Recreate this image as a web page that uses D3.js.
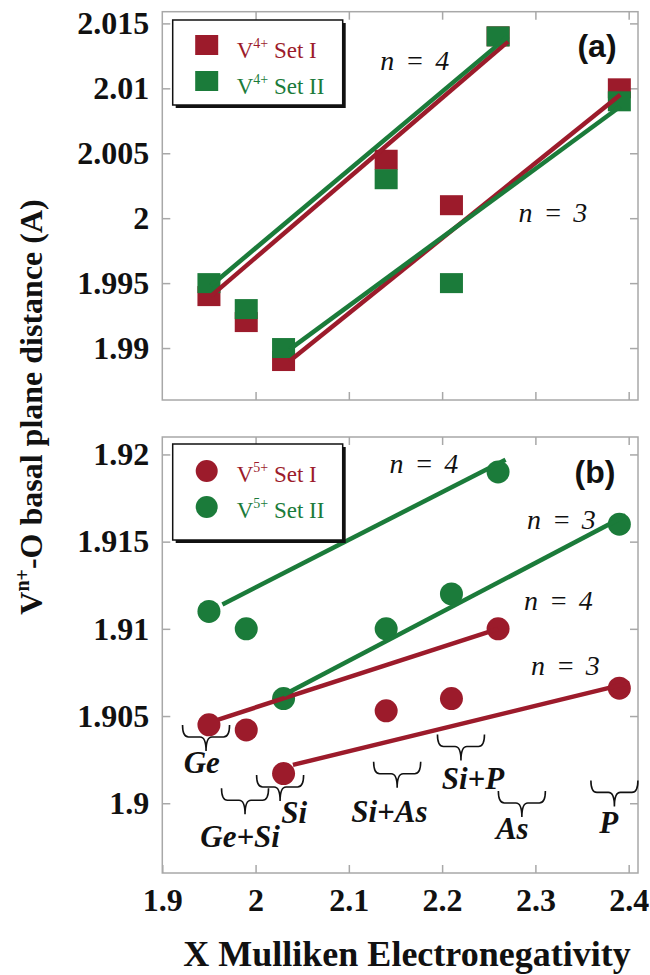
<!DOCTYPE html>
<html><head><meta charset="utf-8">
<script src="https://cdn.jsdelivr.net/npm/d3@7"></script>
<style>body{margin:0;background:#fff}svg{display:block}</style>
</head><body>
<svg id="c" width="650" height="975"></svg>
<script>
// ---------- data ----------
const xValues  = [1.95, 1.99, 2.03, 2.14, 2.21, 2.26, 2.39];
const v4SetI   = [1.994, 1.992, 1.989, 2.0045, 2.001, 2.014, 2.010];
const v4SetII  = [1.995, 1.993, 1.990, 2.003, 1.995, 2.014, 2.009];
const v5SetI   = [1.9045, 1.9042, 1.9017, 1.9053, 1.9060, 1.9100, 1.9066];
const v5SetII  = [1.9110, 1.9100, 1.9060, 1.9100, 1.9120, 1.9190, 1.9160];

// fitted lines (end points): [[x0,y0],[x1,y1]]
const fitV4SetI_n4  = [[1.952, 1.9940], [2.2706, 2.0136]];
const fitV4SetII_n4 = [[1.952, 1.9948], [2.2706, 2.0140]];
const fitV4SetI_n3  = [[2.0365, 1.9890], [2.391, 2.0095]];
const fitV4SetII_n3 = [[2.0365, 1.9899], [2.391, 2.0086]];
const fitV5SetI_n4  = [[1.960, 1.9048], [2.260, 1.9100]];
const fitV5SetI_n3  = [[2.040, 1.9022], [2.401, 1.9069]];
const fitV5SetII_n4 = [[1.9644, 1.9114], [2.268, 1.9197]];
const fitV5SetII_n3 = [[2.030, 1.9062], [2.397, 1.9165]];

const xTicks = [1.9, 2, 2.1, 2.2, 2.3, 2.4];
const xTickLabels = ["1.9", "2", "2.1", "2.2", "2.3", "2.4"];
const yTicksTop = [1.99, 1.995, 2, 2.005, 2.01, 2.015];
const yTickLabelsTop = ["1.99", "1.995", "2", "2.005", "2.01", "2.015"];
const yTicksBot = [1.9, 1.905, 1.91, 1.915, 1.92];
const yTickLabelsBot = ["1.9", "1.905", "1.91", "1.915", "1.92"];

const legendLabels = ["Set I", "Set II"];
const legendTopSup = "4+";
const legendBotSup = "5+";

// n = annotations (data coordinates)
const nLabelsTop = [{t: "n = 4", x: 2.1707, y: 2.01141}, {t: "n = 3", x: 2.3187, y: 1.99971}];
const nLabelsBot = [{t: "n = 4", x: 2.1805, y: 1.91894}, {t: "n = 3", x: 2.3278, y: 1.91572},
                    {t: "n = 4", x: 2.3246, y: 1.91108}, {t: "n = 3", x: 2.3321, y: 1.90735}];

// compound braces (data coordinates: brace centre, brace top; label centre, label baseline)
const compounds  = ["Ge", "Ge+Si", "Si", "Si+As", "Si+P", "As", "P"];
const braceX     = [1.9469, 1.9887, 2.0263, 2.1518, 2.2202, 2.2855, 2.3847];
const braceY     = [1.90449, 1.90086, 1.90162, 1.90238, 1.90394, 1.9007, 1.90131];
const compLabelX = [1.9423, 1.9834, 2.0413, 2.1434, 2.2330, 2.2752, 2.3787];
const compLabelY = [1.90175, 1.89751, 1.89885, 1.89894, 1.90082, 1.89797, 1.89827];

// ---------- drawing ----------
const RED = "#9c1b2b", GREEN = "#1b7b3a", FRAME = "#a8a8a8";
const SERIF = "'Liberation Serif','Times New Roman',Times,serif";
const svg = d3.select("#c");

const L = 162.3, R = 638;
const x = d3.scaleLinear().domain([1.9, 2.41]).range([L, R]);
const yTop = d3.scaleLinear().domain([1.986, 2.0159]).range([400, 11.7]);
const yBot = d3.scaleLinear().domain([1.896, 1.921]).range([873, 437]);

function frame(y, yTicks, yLabels, showX) {
  const [yb, yt] = y.range();
  const g = svg.append("g");
  g.append("rect").attr("x", L).attr("y", yt).attr("width", R - L).attr("height", yb - yt)
    .attr("fill", "none").attr("stroke", FRAME).attr("stroke-width", 1.5);
  const styleAxis = sel => {
    sel.select(".domain").remove();
    sel.selectAll(".tick line").attr("stroke", FRAME).attr("stroke-width", 1.5);
    sel.selectAll("text").attr("font-family", SERIF).attr("font-weight", "bold")
      .attr("font-size", 32).attr("fill", "#111");
  };
  g.append("g").attr("transform", `translate(${L},0)`)
    .call(d3.axisLeft(y).tickValues(yTicks).tickFormat((d, i) => yLabels[i]).tickSize(-8).tickPadding(13))
    .call(styleAxis);
  g.append("g").attr("transform", `translate(${R},0)`)
    .call(d3.axisRight(y).tickValues(yTicks).tickFormat("").tickSize(-8))
    .call(styleAxis);
  g.append("g").attr("transform", `translate(0,${yt})`)
    .call(d3.axisTop(x).tickValues(xTicks.slice(1)).tickFormat("").tickSize(-8))
    .call(styleAxis);
  g.append("g").attr("transform", `translate(0,${yb})`)
    .call(d3.axisBottom(x).tickValues(showX ? xTicks : xTicks.slice(1))
      .tickFormat(showX ? ((d, i) => xTickLabels[i]) : "").tickSize(-8).tickPadding(15))
    .call(styleAxis);
}

frame(yTop, yTicksTop, yTickLabelsTop, false);
frame(yBot, yTicksBot, yTickLabelsBot, true);

const line = y => d3.line().x(d => x(d[0])).y(d => y(d[1]));

// ----- top panel: squares -----
const SW = 23, SH = 20;
function squares(vals, color) {
  svg.append("g").selectAll("rect").data(vals).join("rect")
    .attr("x", (d, i) => x(xValues[i]) - SW / 2).attr("y", d => yTop(d) - SH / 2)
    .attr("width", SW).attr("height", SH).attr("fill", color);
}
squares(v4SetI, RED);
squares(v4SetII, GREEN);
[[fitV4SetI_n4, RED], [fitV4SetI_n3, RED], [fitV4SetII_n4, GREEN], [fitV4SetII_n3, GREEN]].forEach(([d, c]) =>
  svg.append("path").attr("d", line(yTop)(d)).attr("stroke", c).attr("stroke-width", 4.5).attr("fill", "none"));

// ----- bottom panel: circles -----
function circles(vals, color) {
  svg.append("g").selectAll("circle").data(vals).join("circle")
    .attr("cx", (d, i) => x(xValues[i])).attr("cy", d => yBot(d)).attr("r", 11.5).attr("fill", color);
}
circles(v5SetI, RED);
circles(v5SetII, GREEN);
[[fitV5SetI_n4, RED], [fitV5SetI_n3, RED], [fitV5SetII_n4, GREEN], [fitV5SetII_n3, GREEN]].forEach(([d, c]) =>
  svg.append("path").attr("d", line(yBot)(d)).attr("stroke", c).attr("stroke-width", 4.5).attr("fill", "none"));

// ----- n labels -----
function nLabels(arr, y) {
  svg.append("g").selectAll("text").data(arr).join("text")
    .attr("x", d => x(d.x)).attr("y", d => y(d.y)).attr("text-anchor", "middle")
    .attr("font-family", SERIF).attr("font-style", "italic").attr("font-size", 28)
    .attr("word-spacing", 4).attr("fill", "#111").text(d => d.t);
}
nLabels(nLabelsTop, yTop);
nLabels(nLabelsBot, yBot);

// panel letters
svg.append("text").attr("x", 597).attr("y", 57).attr("text-anchor", "middle")
  .attr("font-family", "'Liberation Sans Narrow','Liberation Sans',Arial,sans-serif")
  .attr("font-weight", "bold").attr("font-size", 32).attr("fill", "#111").text("(a)");
svg.append("text").attr("x", 595).attr("y", 483).attr("text-anchor", "middle")
  .attr("font-family", "'Liberation Sans Narrow','Liberation Sans',Arial,sans-serif")
  .attr("font-weight", "bold").attr("font-size", 32).attr("fill", "#111").text("(b)");

// ----- braces -----
function bracePath(cx, ty) {
  const w = 23.5, h1 = 12, h2 = 26, r = 6;
  return `M${cx - w},${ty} Q${cx - w},${ty + h1} ${cx - w + r},${ty + h1} L${cx - r},${ty + h1} ` +
    `Q${cx},${ty + h1} ${cx},${ty + h2} Q${cx},${ty + h1} ${cx + r},${ty + h1} ` +
    `L${cx + w - r},${ty + h1} Q${cx + w},${ty + h1} ${cx + w},${ty}`;
}
const bg = svg.append("g");
bg.selectAll("path").data(compounds).join("path")
  .attr("d", (d, i) => bracePath(x(braceX[i]), yBot(braceY[i])))
  .attr("fill", "none").attr("stroke", "#111").attr("stroke-width", 1.6);
bg.selectAll("text").data(compounds).join("text")
  .attr("x", (d, i) => x(compLabelX[i])).attr("y", (d, i) => yBot(compLabelY[i]))
  .attr("text-anchor", "middle").attr("font-family", SERIF).attr("font-style", "italic")
  .attr("font-weight", "bold").attr("font-size", 31).attr("fill", "#111").text(d => d);

// ----- legends -----
function legend(x0, y0, w, h, sup, marker) {
  const g = svg.append("g");
  g.append("rect").attr("x", x0 + 3).attr("y", y0 + 3).attr("width", w).attr("height", h).attr("fill", "#111");
  g.append("rect").attr("x", x0).attr("y", y0).attr("width", w).attr("height", h)
    .attr("fill", "#fff").attr("stroke", "#111").attr("stroke-width", 1.5);
  [RED, GREEN].forEach((c, i) => {
    const cy = y0 + 25 + i * 36;
    marker(g, x0 + 34, cy, c);
    const t = g.append("text").attr("x", x0 + 64).attr("y", cy + 13).attr("font-family", SERIF)
      .attr("font-size", 23).attr("fill", c);
    t.append("tspan").text("V");
    t.append("tspan").attr("font-size", 14).attr("dy", -10).text(sup);
    t.append("tspan").attr("dy", 10).text(" " + legendLabels[i]);
  });
}
legend(172.7, 20, 170, 85, legendTopSup, (g, cx, cy, c) =>
  g.append("rect").attr("x", cx - SW / 2).attr("y", cy - SH / 2).attr("width", SW).attr("height", SH).attr("fill", c));
legend(172.7, 444, 170, 96, legendBotSup, (g, cx, cy, c) =>
  g.append("circle").attr("cx", cx).attr("cy", cy + 2).attr("r", 11).attr("fill", c));

// ----- axis titles -----
svg.append("text").attr("x", 407).attr("y", 966).attr("text-anchor", "middle")
  .attr("font-family", SERIF).attr("font-weight", "bold").attr("font-size", 36).attr("fill", "#111")
  .text("X Mulliken Electronegativity");
const yt = svg.append("text").attr("transform", "translate(42,407) rotate(-90)").attr("text-anchor", "middle")
  .attr("font-family", SERIF).attr("font-weight", "bold").attr("font-size", 32).attr("fill", "#111");
yt.append("tspan").text("V");
yt.append("tspan").attr("font-size", 20).attr("dy", -13).text("n+");
yt.append("tspan").attr("dy", 13).text("-O basal plane distance (A)");
</script>
</body></html>
